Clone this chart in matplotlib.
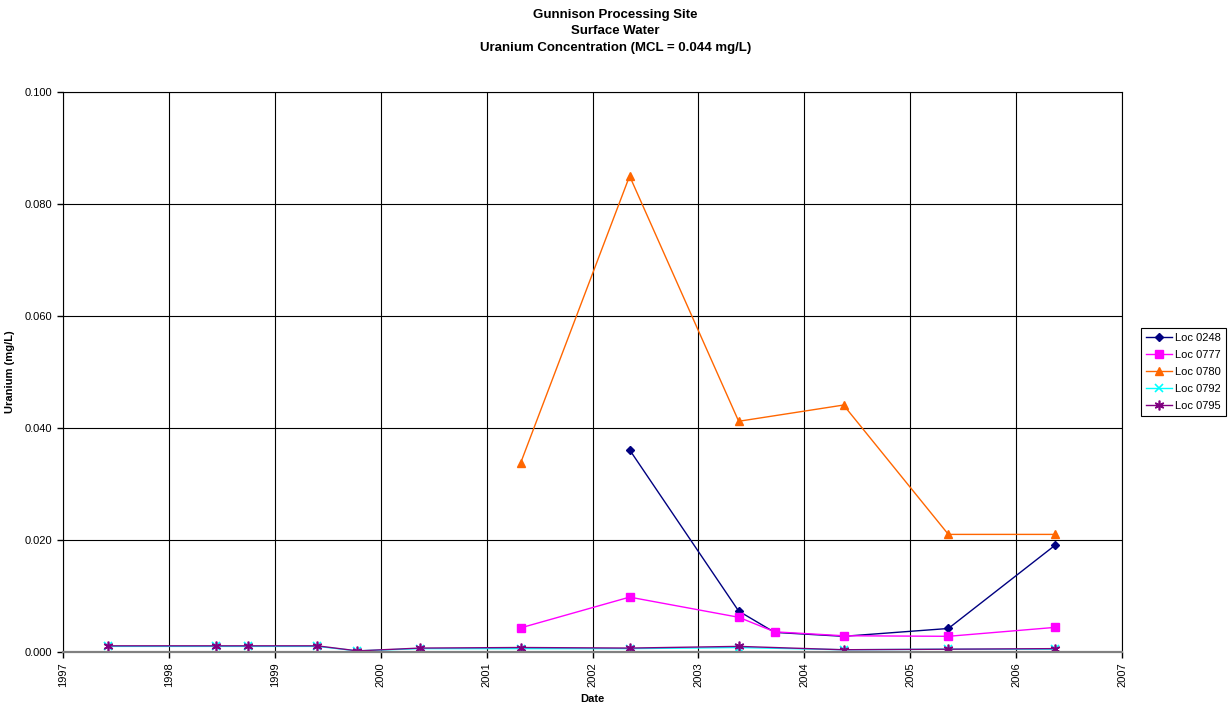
import matplotlib.pyplot as plt
import numpy as np

plt.rcParams['font.family'] = ['Liberation Sans', 'DejaVu Sans']

# sample dates as decimal years
dates_0248 = [2002.35, 2003.38, 2003.72, 2004.37, 2005.36, 2006.37]
u_0248 = [0.0361, 0.0073, 0.0035, 0.0028, 0.0042, 0.0191]

dates_0777 = [2001.32, 2002.35, 2003.38, 2003.72, 2004.37, 2005.36, 2006.37]
u_0777 = [0.0043, 0.0098, 0.0062, 0.0036, 0.0029, 0.0028, 0.0044]

dates_0780 = [2001.32, 2002.35, 2003.38, 2004.37, 2005.36, 2006.37]
u_0780 = [0.0337, 0.0850, 0.0412, 0.0441, 0.0210, 0.0210]

dates_0792 = [1997.42, 1998.44, 1998.75, 1999.40, 1999.78, 2000.37, 2001.32,
              2002.35, 2003.38, 2004.37, 2005.36, 2006.37]
u_0792 = [0.0010, 0.0010, 0.0010, 0.0010, 0.0002, 0.0006, 0.0006,
          0.0006, 0.0008, 0.0004, 0.0005, 0.0005]

dates_0795 = [1997.42, 1998.44, 1998.75, 1999.40, 1999.78, 2000.37, 2001.32,
              2002.35, 2003.38, 2004.37, 2005.36, 2006.37]
u_0795 = [0.0011, 0.0011, 0.0011, 0.0011, 0.0002, 0.0007, 0.0008,
          0.0007, 0.0010, 0.0004, 0.0005, 0.0006]

years = list(range(1997, 2008))
yticks = [0.0, 0.02, 0.04, 0.06, 0.08, 0.10]

fig = plt.figure(figsize=(12.31, 7.10), dpi=100)
ax = fig.add_axes([0.0512, 0.0817, 0.8603, 0.7887])

ax.plot(dates_0248, u_0248, color='#000080', marker='D', ms=4, lw=1, label='Loc 0248')
ax.plot(dates_0777, u_0777, color='#FF00FF', marker='s', ms=6, lw=1, label='Loc 0777')
ax.plot(dates_0780, u_0780, color='#FF6600', marker='^', ms=6, lw=1, label='Loc 0780')
ax.plot(dates_0792, u_0792, color='#00FFFF', marker='x', ms=6, mew=1.2, lw=1, label='Loc 0792')
ax.plot(dates_0795, u_0795, color='#800080', marker=(6, 2, 0), ms=7, mew=1.2, lw=1, label='Loc 0795')

ax.set_xlim(1997, 2007)
ax.set_ylim(0, 0.1)
ax.set_xticks(years)
ax.set_xticklabels([str(y) for y in years], rotation=90, fontsize=8)
ax.set_yticks(yticks)
ax.set_yticklabels(['%.3f' % v for v in yticks], fontsize=8)
ax.tick_params(direction='out', length=4, width=1)
ax.grid(True, color='black', lw=0.8)
for s in ax.spines.values():
    s.set_color('black')
    s.set_linewidth(0.8)
ax.spines['bottom'].set_color('#808080')
ax.spines['bottom'].set_linewidth(1.6)

ax.set_xlabel('Date', fontsize=8, fontweight='bold', labelpad=5)
ax.set_ylabel('Uranium (mg/L)', fontsize=8, fontweight='bold', labelpad=7)

fig.suptitle('Gunnison Processing Site\nSurface Water\nUranium Concentration (MCL = 0.044 mg/L)',
             fontsize=9.5, fontweight='bold', y=0.988, linespacing=1.55)

leg = ax.legend(loc='center left', bbox_to_anchor=(1.013, 0.5), fontsize=8,
                frameon=True, fancybox=False, edgecolor='black', framealpha=1,
                handlelength=2.3, borderpad=0.45, labelspacing=0.62, handletextpad=0.3)
leg.get_frame().set_linewidth(0.8)

fig.savefig('out.png', dpi=100)
